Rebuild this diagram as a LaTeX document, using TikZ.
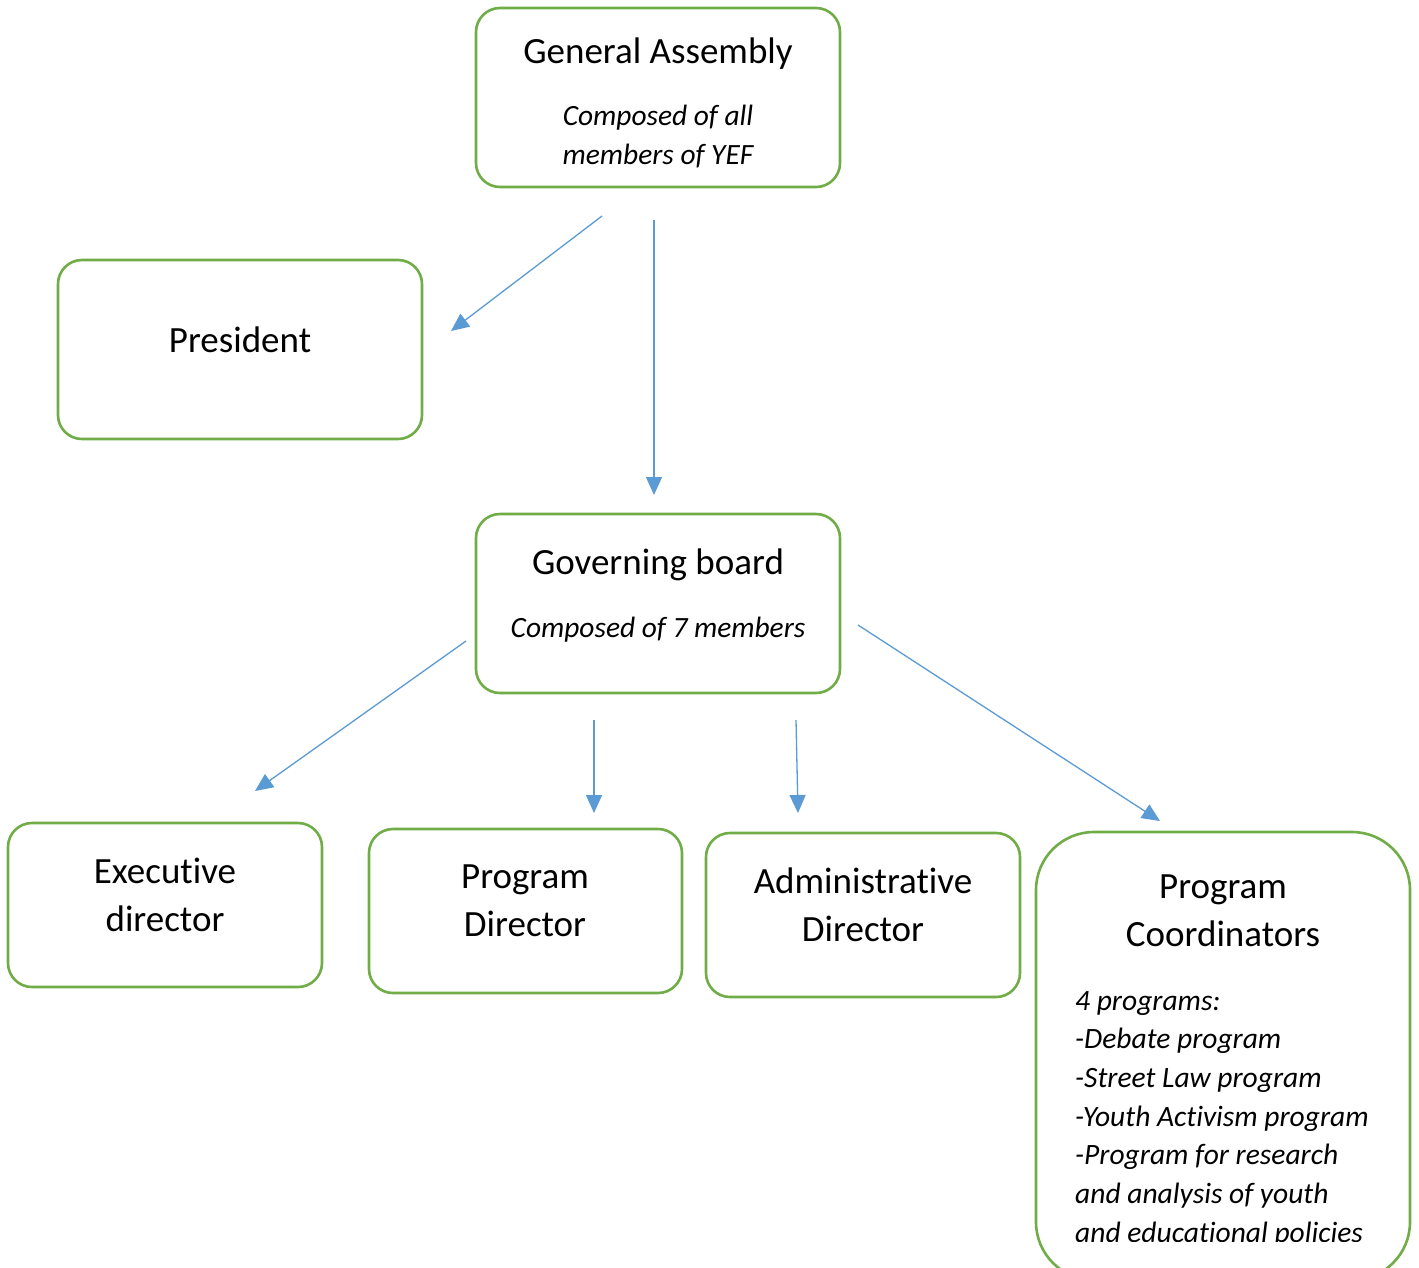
\documentclass[tikz,border=0pt]{standalone}
\usepackage{fontspec}
\setmainfont{Carlito}[Ligatures=NoCommon]
\usetikzlibrary{arrows.meta}
\definecolor{boxgreen}{HTML}{70AD47}
\definecolor{arrblue}{HTML}{5B9BD5}
\begin{document}
\begin{tikzpicture}[x=1pt,y=-1pt,
 box/.style={draw=boxgreen, line width=2.6pt, rounded corners=24pt, inner sep=0pt},
 ttl/.style={font=\fontsize{37}{48}\selectfont, align=center, inner sep=0pt},
 sub/.style={font=\fontsize{29.4}{39}\selectfont\itshape, align=center, inner sep=0pt},
 lst/.style={font=\fontsize{29.5}{38.7}\selectfont\itshape, align=left, inner sep=0pt},
 arr/.style={draw=arrblue, line width=1.3pt, -{Triangle[length=18pt,width=16pt]}}]
\useasboundingbox (0,0) rectangle (1419,1267);
\fill[white] (0,0) rectangle (1419,1267);
% boxes
\node[box, minimum width=364pt, minimum height=179pt] (ga) at (658,97.5) {};
\node[box, minimum width=364pt, minimum height=179pt] (pres) at (240,349.5) {};
\node[box, minimum width=364pt, minimum height=179pt] (gb) at (658,603.5) {};
\node[box, minimum width=314pt, minimum height=164pt] (exec) at (165,905) {};
\node[box, minimum width=313pt, minimum height=164pt] (pdir) at (525.5,911) {};
\node[box, minimum width=314pt, minimum height=164pt] (adir) at (863,915) {};
\node[box, rounded corners=58pt, minimum width=374pt, minimum height=448pt] (coord) at (1223,1056) {};
% texts
\node[ttl] (gat) at (658,54) {General Assembly};
\node[sub] (gas) at (658,137) {Composed of all\\members of YEF};
\node[ttl] (prest) at (240,340) {President};
\node[ttl] (gbt) at (658,565) {Governing board};
\node[sub] (gbs) at (658,630) {Composed of 7 members};
\node[ttl] (exect) at (165,895) {Executive\\director};
\node[ttl] (pdirt) at (525,901) {Program\\Director};
\node[ttl] (adirt) at (863,905) {Administrative\\Director};
\node[ttl] (coordt) at (1223,911) {Program\\Coordinators};
\begin{scope}
\clip (1040,835) rectangle (1415,1241);
\node[lst, anchor=north west] (coordl) at (1075,991) {4 programs:\\-Debate program\\-Street Law program\\-Youth Activism program\\-Program for research\\and analysis of youth\\and educational policies};
\end{scope}
% arrow ends
\coordinate (a1s) at (602,216); \coordinate (a1e) at (451,331);
\coordinate (a2s) at (654,220); \coordinate (a2e) at (654,495);
\coordinate (a3s) at (466,641); \coordinate (a3e) at (255,791);
\coordinate (a4s) at (594,720); \coordinate (a4e) at (594,813);
\coordinate (a5s) at (796,720); \coordinate (a5e) at (798,813);
\coordinate (a6s) at (858,625); \coordinate (a6e) at (1160,821);
\draw[arr] (a1s) -- (a1e);
\draw[arr] (a2s) -- (a2e);
\draw[arr] (a3s) -- (a3e);
\draw[arr] (a4s) -- (a4e);
\draw[arr] (a5s) -- (a5e);
\draw[arr] (a6s) -- (a6e);
\end{tikzpicture}
\end{document}
